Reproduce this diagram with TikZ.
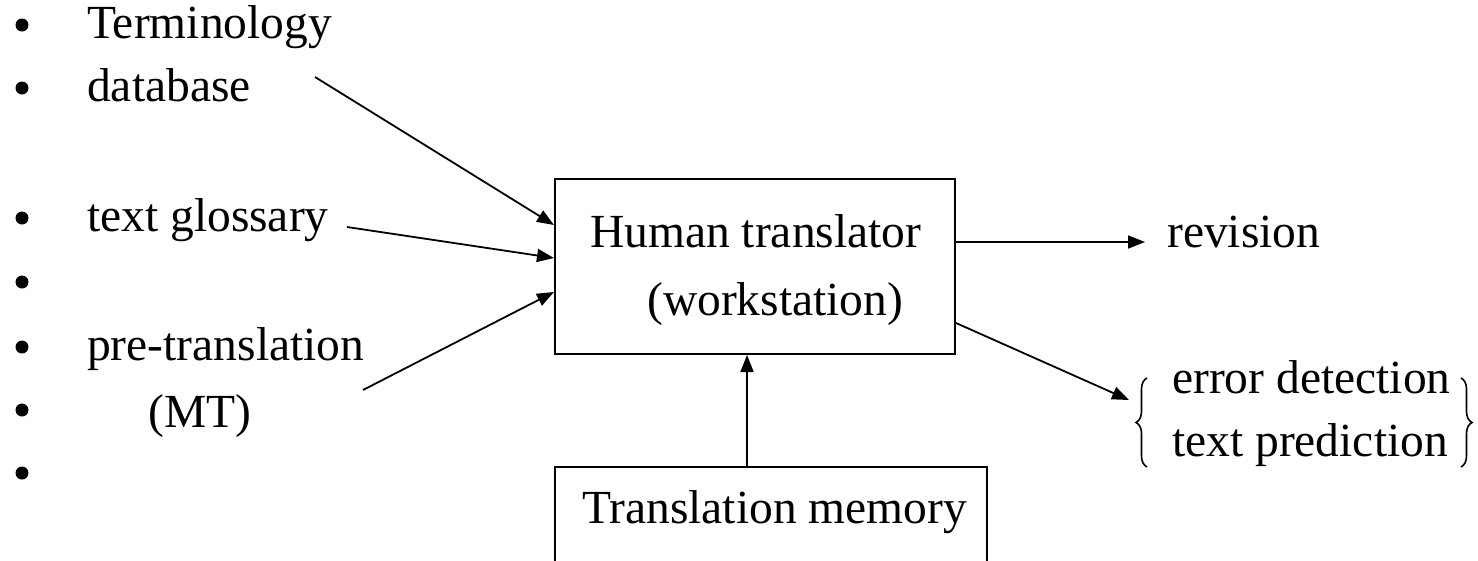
\documentclass[tikz,border=0pt]{standalone}
\usepackage{fontspec}
\setmainfont{Liberation Serif}
\usetikzlibrary{arrows.meta,decorations.pathreplacing}

\tikzset{
  txt/.style={anchor=base west, inner sep=0pt, font=\fontsize{47.5}{56}\selectfont},
  dot/.style={circle, fill, inner sep=0pt, minimum size=13pt},
  frame/.style={draw, line width=2pt, inner sep=0pt},
  arr/.style={line width=1.8pt, -{Triangle[length=17pt,width=13pt]}},
  curly/.style={line width=1.6pt, decorate, decoration={brace, amplitude=11pt}}
}

\begin{document}
\begin{tikzpicture}[x=1pt, y=-1pt]
  \useasboundingbox (0,0) rectangle (1478,560);
  \clip (0,0) rectangle (1478,560);

  % bullet list on the left
  \foreach \yy [count=\i] in {25,88,218,282,347,410,473}
    \node[dot] (b\i) at (22,\yy) {};
  \node[txt] (term) at (87,38)  {Terminology};
  \node[txt] (db)   at (87,101) {database};
  \node[txt] (gl)   at (87,231) {text glossary};
  \node[txt] (pre)  at (87,360) {pre-translation};
  \node[txt] (mt)   at (148,427) {(MT)};

  % central workstation box
  \node[frame, minimum width=400pt, minimum height=175pt] (ht) at (755,266.5) {};
  \node[txt] (htA) at (590,247) {Human translator};
  \node[txt] (htB) at (647,315) {(workstation)};

  % translation memory box, running off the lower edge
  \node[frame, minimum width=432pt, minimum height=200pt] (tm) at (771,567) {};
  \node[txt] (tmT) at (582,523) {Translation memory};

  % outputs on the right
  \node[txt] (rev) at (1167,247) {revision};
  \node[txt] (err) at (1172,393) {error detection};
  \node[txt] (pred) at (1172,456) {text prediction};

  % free ends of the connectors
  \coordinate (sDb)  at (315,77);
  \coordinate (sGl)  at (347,227);
  \coordinate (sPre) at (363,390);
  \coordinate (tRev) at (1145,242);
  \coordinate (tBr)  at (1129,400);
  \coordinate (xUp)  at (747,0);

  % connectors into the workstation
  \draw[arr] (sDb)  -- ([yshift=41.5pt]ht.west);
  \draw[arr] (sGl)  -- ([yshift=8.5pt]ht.west);
  \draw[arr] (sPre) -- ([yshift=-25.5pt]ht.west);
  \draw[arr] (tm.north -| xUp) -- (ht.south -| xUp);

  % connectors out of the workstation
  \draw[arr] ([yshift=24.5pt]ht.east) -- (tRev);
  \draw[arr] ([yshift=-56.5pt]ht.east) -- (tBr);

  % braces round the two functions
  \draw[curly] (1147,467) -- (1147,378);
  \draw[curly] (1461,378) -- (1461,467);
\end{tikzpicture}
\end{document}
